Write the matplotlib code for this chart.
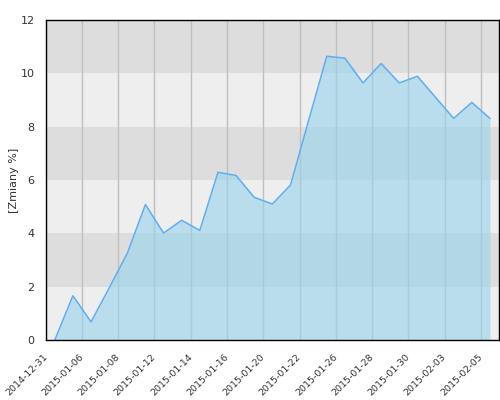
import matplotlib
matplotlib.use("Agg")
import matplotlib.pyplot as plt
import matplotlib.transforms as mtransforms
import numpy as np

dates = ['2014-12-31', '2015-01-02', '2015-01-06', '2015-01-07', '2015-01-08',
         '2015-01-09', '2015-01-12', '2015-01-13', '2015-01-14', '2015-01-15',
         '2015-01-16', '2015-01-19', '2015-01-20', '2015-01-21', '2015-01-22',
         '2015-01-23', '2015-01-26', '2015-01-27', '2015-01-28', '2015-01-29',
         '2015-01-30', '2015-02-02', '2015-02-03', '2015-02-04', '2015-02-05']
values = [0.0, 1.66, 0.68, 1.95, 3.25, 5.08, 4.01, 4.49, 4.11, 6.29,
          6.17, 5.35, 5.10, 5.81, 8.23, 10.64, 10.57, 9.64, 10.37, 9.64,
          9.89, 9.10, 8.31, 8.91, 8.31]
tick_labels = dates[::2]
y_ticks = [0, 2, 4, 6, 8, 10, 12]
y_label = '[Zmiany %]'

fig = plt.figure(figsize=(5, 4), dpi=100)
ax = fig.add_axes([0.0914, 0.15, 0.9066, 0.80])

x = np.arange(len(values))
ax.set_xlim(-0.5, len(values) - 0.5)
ax.set_ylim(0, 12)

# background bands
for i, lo in enumerate(range(0, 12, 2)):
    ax.axhspan(lo, lo + 2, color='#eeeeee' if i % 2 == 0 else '#dddddd', lw=0, zorder=0)

tick_pos = x[::2] - 0.5
for tp in tick_pos:
    ax.axvline(tp, color='#bfbfbf', lw=1, zorder=1)

ax.fill_between(x, values, 0, color=(150/255, 211/255, 235/255), alpha=0.6, lw=0, zorder=2)
ax.plot(x, values, color='#5eaef2', lw=1.1, zorder=3)

ax.set_xticks(tick_pos)
ax.set_xticklabels(tick_labels, rotation=45, ha='right', rotation_mode='anchor',
                   fontsize=6.8, color='#333333')
ax.set_yticks(y_ticks)
ax.set_yticklabels([str(v) for v in y_ticks], fontsize=8, color='#333333')
ax.tick_params(axis='x', length=0, pad=9)
ax.tick_params(axis='y', length=0, pad=8)
offset = mtransforms.ScaledTranslation(-3 / 100, 0, fig.dpi_scale_trans)
for lbl in ax.get_xticklabels():
    lbl.set_transform(lbl.get_transform() + offset)
ax.set_ylabel(y_label, fontsize=8, color='#333333')
ax.yaxis.set_label_coords(-0.058, 0.5)

for s in ax.spines.values():
    s.set_color('black')
    s.set_linewidth(1)
    s.set_zorder(5)

fig.savefig('out.png', dpi=100)
